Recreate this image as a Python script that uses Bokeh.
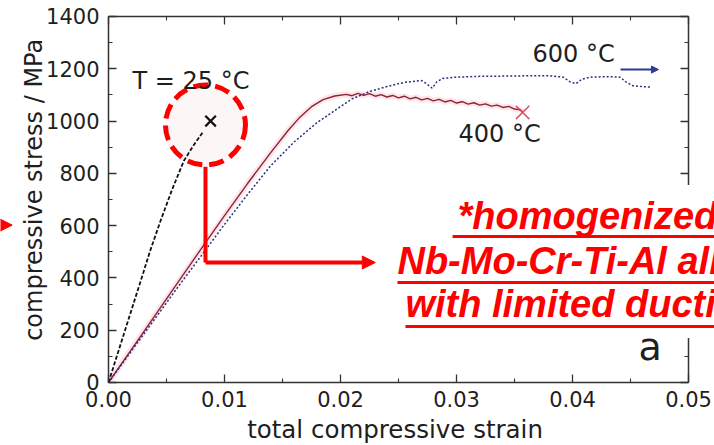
from bokeh.plotting import figure
from bokeh.models import (Range1d, LinearAxis, FixedTicker, PrintfTickFormatter,
                          Label, Arrow, NormalHead, BoxAnnotation)
from bokeh.embed import file_html
from bokeh.resources import INLINE

# ---------------- data ----------------
strain_25 = [0, 0.001, 0.002, 0.003, 0.0036, 0.0045, 0.0055, 0.0065, 0.0073, 0.0082]
stress_25 = [0, 140, 280, 420, 505, 620, 740, 848, 905, 962]

strain_400 = [0, 0.002, 0.004, 0.006, 0.008, 0.010, 0.012, 0.014, 0.0155, 0.0165,
              0.0175, 0.0185, 0.0195, 0.0205,
              0.021, 0.0215, 0.022, 0.0225, 0.023, 0.0235, 0.024, 0.0245, 0.025, 0.0255,
              0.026, 0.0265, 0.027, 0.0275, 0.028, 0.0285, 0.029, 0.0295, 0.030, 0.0305,
              0.031, 0.0315, 0.032, 0.0325, 0.033, 0.0335, 0.034, 0.0345, 0.035, 0.0355,
              0.0357]
stress_400 = [0, 128, 256, 384, 512, 638, 762, 880, 965, 1015,
              1055, 1082, 1096, 1102,
              1097, 1106, 1098, 1105, 1095, 1101, 1092, 1098, 1089, 1095,
              1085, 1091, 1081, 1087, 1077, 1083, 1073, 1079, 1069, 1074,
              1065, 1070, 1061, 1066, 1057, 1061, 1052, 1056, 1046, 1043,
              1035]

strain_600 = [0, 0.002, 0.004, 0.006, 0.008, 0.010, 0.012, 0.014, 0.016, 0.018,
              0.0195, 0.021, 0.0225, 0.024, 0.0255, 0.027, 0.0275, 0.0279, 0.0283, 0.0288,
              0.030, 0.032, 0.034, 0.036, 0.038, 0.0392, 0.0398, 0.0403, 0.0408, 0.0415,
              0.043, 0.0441, 0.0446, 0.0452, 0.046, 0.0467]
stress_600 = [0, 122, 244, 366, 485, 605, 720, 830, 920, 995,
              1040, 1085, 1113, 1132, 1148, 1155, 1140, 1126, 1150, 1163,
              1168, 1171, 1172, 1173, 1173, 1168, 1150, 1143, 1160, 1168,
              1170, 1168, 1150, 1135, 1132, 1130]

fracture_25_x, fracture_25_y = [0.0088], [1000]
fracture_400_x, fracture_400_y = [0.0357], [1033]

x_ticks = [0.0, 0.01, 0.02, 0.03, 0.04, 0.05]
x_minor = [0.005, 0.015, 0.025, 0.035, 0.045]
y_ticks = [0, 200, 400, 600, 800, 1000, 1200, 1400]
y_minor = [100, 300, 500, 700, 900, 1100, 1300]
x_axis_span = (0.0, 0.05)
y_axis_span = (0, 1400)

x_label = "total compressive strain"
y_label = "compressive stress / MPa"
temp_labels = ["T = 25 \u00b0C", "400 \u00b0C", "600 \u00b0C"]
panel_label = "a"
note_lines = ["*homogenized", "Nb-Mo-Cr-Ti-Al alloy", "with limited ductility"]

# ---------------- figure ----------------
# The frame fills the whole canvas so that texts near the edges are not cut;
# the four axes are pinned to the data box 0..0.05 x 0..1400.
p = figure(width=714, height=445, output_backend="svg", toolbar_location=None,
           x_range=Range1d(-0.00931, 0.05224), y_range=Range1d(-241.0, 1461.2),
           min_border_left=0, min_border_right=0, min_border_top=0,
           min_border_bottom=0)
p.grid.visible = False
p.outline_line_color = None
p.background_fill_color = "white"
p.border_fill_color = "white"

AX = "#333333"
TXT = "#1e1e1e"


def style_axis(ax, ticks, minor, show_labels):
    ax.ticker = FixedTicker(ticks=ticks, minor_ticks=minor)
    ax.axis_line_color = AX
    ax.axis_line_width = 1.5
    ax.major_tick_line_color = AX
    ax.minor_tick_line_color = AX
    ax.major_tick_line_width = 1.3
    ax.minor_tick_line_width = 1.1
    ax.major_tick_in = 8
    ax.major_tick_out = 0
    ax.minor_tick_in = 4
    ax.minor_tick_out = 0
    if show_labels:
        ax.major_label_text_font = "DejaVu Sans"
        ax.major_label_text_font_size = "21px"
        ax.major_label_text_color = TXT
        ax.major_label_standoff = 9
    else:
        ax.major_label_text_font_size = "10px"
        ax.major_label_text_color = None
        ax.major_label_standoff = 0


xa = p.xaxis[0]
ya = p.yaxis[0]
style_axis(xa, x_ticks, x_minor, True)
style_axis(ya, y_ticks, y_minor, True)
xa.formatter = PrintfTickFormatter(format="%.2f")
xa.bounds = x_axis_span
xa.fixed_location = y_axis_span[0]
ya.bounds = y_axis_span
ya.fixed_location = x_axis_span[0]

top = LinearAxis(bounds=x_axis_span, fixed_location=y_axis_span[1])
style_axis(top, x_ticks, x_minor, False)
p.add_layout(top, "above")
right = LinearAxis(bounds=y_axis_span, fixed_location=x_axis_span[1])
style_axis(right, y_ticks, y_minor, False)
p.add_layout(right, "right")

# axis titles (centred on the data box)
p.add_layout(Label(x=0.0247, y=-180, text=x_label, text_font="DejaVu Sans",
                   text_font_size="24.5px", text_color=TXT,
                   text_align="center", text_baseline="alphabetic"))
p.add_layout(Label(x=-0.00638, y=737, text=y_label, text_font="DejaVu Sans",
                   text_font_size="24px", text_color=TXT, angle=90,
                   angle_units="deg", text_align="center", text_baseline="middle"))

# ---------------- callout circle (fill) ----------------
circ_x, circ_y = [0.00836], [985]
p.scatter(x=circ_x, y=circ_y, marker="circle", size=80, fill_color="#fdf6f6",
          fill_alpha=1.0, line_color=None)

# ---------------- curves ----------------
p.line(strain_400, stress_400, line_color="#f7a8b8", line_width=6, line_alpha=0.3)
p.line(strain_400, stress_400, line_color="#8a2436", line_width=1.4)
p.line(strain_600, stress_600, line_color="#2b2f7e", line_width=1.5, line_dash="2 2")
p.line(strain_25, stress_25, line_color="#111111", line_width=1.8, line_dash="4 2")

p.scatter(fracture_25_x, fracture_25_y, marker="x", size=15, line_color="#111111",
          line_width=2.2)
p.scatter(fracture_400_x, fracture_400_y, marker="x", size=19, line_color="#e0405a",
          line_width=1.6, line_alpha=0.9)

# ---------------- callout ring + connector ----------------
p.scatter(x=circ_x, y=circ_y, marker="circle", size=80, fill_color=None,
          line_color="#ff0000", line_width=5, line_dash="15 7")
p.line([0.00836, 0.00836], [825, 459], line_color="#ff0000", line_width=4)
p.add_layout(Arrow(end=NormalHead(size=13, fill_color="#ff0000", line_color="#ff0000"),
                   x_start=0.00836, y_start=459, x_end=0.0230, y_end=459,
                   line_color="#ff0000", line_width=4))

# 600 C direction arrow
p.add_layout(Arrow(end=NormalHead(size=7, fill_color="#2c3a9a", line_color="#2c3a9a"),
                   x_start=0.04414, y_start=1197, x_end=0.04741, y_end=1197,
                   line_color="#2c3a9a", line_width=2))

# red triangle at left edge
p.add_layout(Arrow(end=NormalHead(size=15, fill_color="#ff0000", line_color="#ff0000"),
                   x_start=-0.0120, y_start=602, x_end=-0.0083, y_end=602,
                   line_alpha=0, line_width=1))

# ---------------- text labels ----------------
for txt, lx, ly in [(temp_labels[0], 0.00207, 1155), (temp_labels[1], 0.03017, 949),
                    (temp_labels[2], 0.03655, 1258)]:
    p.add_layout(Label(x=lx, y=ly, text=txt, text_font="DejaVu Sans",
                       text_font_size="24px", text_color=TXT,
                       text_align="left", text_baseline="alphabetic"))
p.add_layout(Label(x=0.04569, y=134, text=panel_label, text_font="DejaVu Sans",
                   text_font_size="38px", text_color=TXT,
                   text_align="left", text_baseline="alphabetic"))

# white area behind the red note
p.add_layout(BoxAnnotation(left=0.0245, right=0.07, bottom=170, top=755,
                           fill_color="white", fill_alpha=1.0, line_alpha=0))

note_pos = [(0.03009, 635, 0.02966, 558.5),
            (0.02491, 463, 0.02491, 382.5),
            (0.02560, 302, 0.02560, 214.2)]
for txt, (tx, ty, ux, uy) in zip(note_lines, note_pos):
    p.add_layout(Label(x=tx, y=ty, text=txt, text_font="Liberation Sans",
                       text_font_style="bold italic", text_font_size="38px",
                       text_color="#ff0000", text_align="left",
                       text_baseline="alphabetic"))
    p.add_layout(Arrow(end=None, x_start=ux, y_start=uy, x_end=0.07, y_end=uy,
                       line_color="#ff0000", line_width=3))

open("out.html", "w").write(file_html(p, INLINE))
